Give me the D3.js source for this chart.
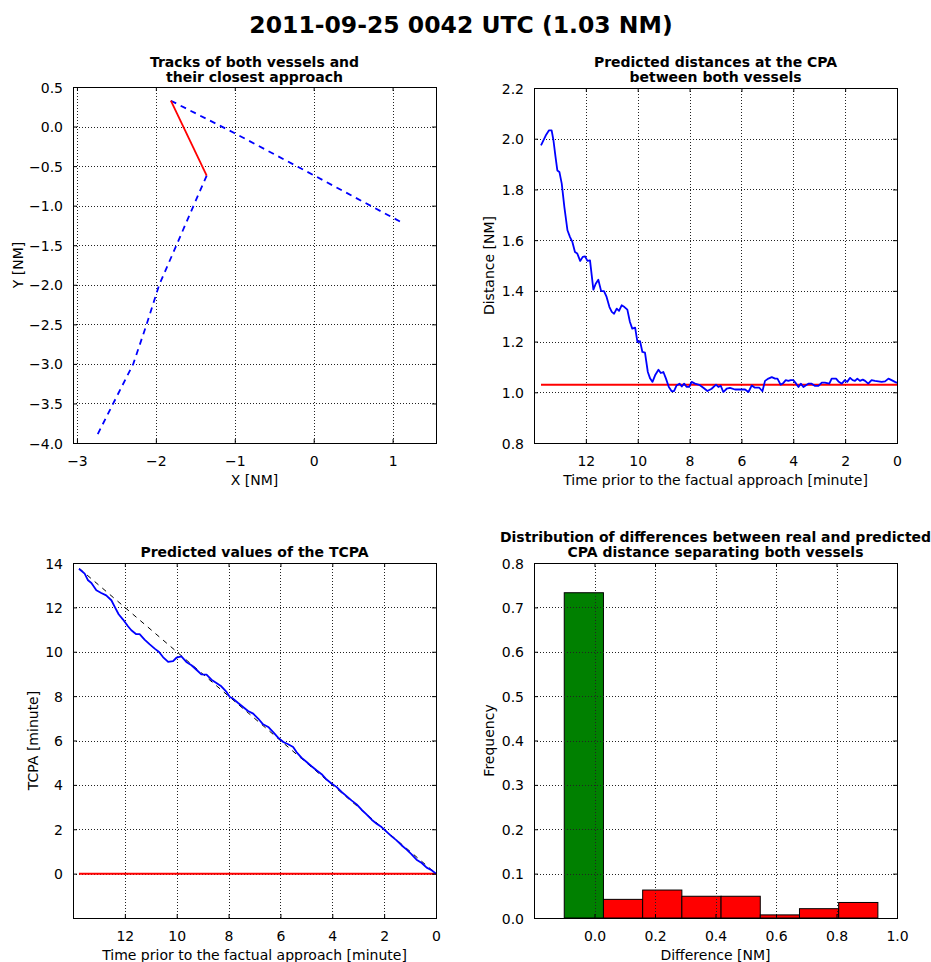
<!DOCTYPE html>
<html>
<head>
<meta charset="utf-8">
<script src="https://cdn.jsdelivr.net/npm/d3@7/dist/d3.min.js"></script>
<style>
  html, body { margin: 0; padding: 0; background: #fff; }
  svg { display: block; font-family: "DejaVu Sans", sans-serif; }
</style>
</head>
<body>
<svg id="chart" width="931" height="962"></svg>
<script>
// ---------------- DATA ----------------
const mainTitle = "2011-09-25 0042 UTC (1.03 NM)";

// Panel 1: tracks (NM)
const vessel1X = [-1.81, -1.0, 0.0, 1.13];
const vessel1Y = [0.327, -0.085, -0.615, -1.22];
const vessel2X = [-1.356, -1.522, -1.739, -1.957, -2.117, -2.286, -2.54, -2.75];
const vessel2Y = [-0.619, -1.0, -1.5, -2.0, -2.5, -3.0, -3.5, -3.914];
const cpaX = [-1.81, -1.356];
const cpaY = [0.327, -0.619];
const p1XTicks = [-3, -2, -1, 0, 1];
const p1YTicks = [0.5, 0.0, -0.5, -1.0, -1.5, -2.0, -2.5, -3.0, -3.5, -4.0];

// Panel 2: predicted CPA distance vs time prior (minutes)
const distTime = [13.73,13.53,13.42,13.32,13.25,13.17,13.10,13.02,12.93,12.83,12.71,12.61,12.52,12.42,12.33,12.22,12.12,12.03,11.94,11.84,11.71,11.62,11.52,11.41,11.30,11.20,11.09,11.00,10.91,10.81,10.72,10.62,10.51,10.40,10.30,10.21,10.10,10.01,9.91,9.82,9.72,9.61,9.52,9.43,9.33,9.20,9.11,9.01,8.91,8.80,8.69,8.60,8.50,8.39,8.30,8.21,8.11,8.01,7.92,7.79,7.60,7.47,7.31,7.15,6.98,6.89,6.80,6.70,6.57,6.44,6.25,6.05,5.86,5.73,5.60,5.48,5.31,5.19,5.09,4.96,4.83,4.70,4.61,4.49,4.38,4.29,4.19,4.10,4.00,3.89,3.80,3.71,3.61,3.51,3.42,3.29,3.16,3.03,2.90,2.78,2.61,2.52,2.35,2.26,2.13,2.01,1.92,1.81,1.71,1.62,1.53,1.43,1.32,1.23,1.11,0.98,0.85,0.72,0.59,0.46,0.33,0.21,0.08,0.00];
const distValue = [1.974,2.016,2.033,2.033,1.994,1.928,1.875,1.869,1.823,1.731,1.639,1.612,1.593,1.553,1.547,1.518,1.534,1.536,1.518,1.520,1.405,1.428,1.444,1.399,1.399,1.376,1.336,1.317,1.310,1.330,1.321,1.343,1.336,1.326,1.277,1.251,1.255,1.198,1.202,1.159,1.156,1.080,1.054,1.041,1.067,1.089,1.076,1.080,1.054,1.021,1.004,1.005,1.027,1.034,1.023,1.034,1.021,1.021,1.041,1.034,1.028,1.018,1.005,1.014,1.030,1.021,1.026,1.001,1.014,1.017,1.011,1.011,1.011,1.001,1.027,1.018,1.018,1.004,1.045,1.054,1.060,1.054,1.054,1.030,1.037,1.048,1.045,1.048,1.048,1.034,1.021,1.034,1.021,1.028,1.034,1.034,1.025,1.025,1.038,1.038,1.034,1.054,1.054,1.043,1.034,1.048,1.041,1.057,1.048,1.045,1.054,1.045,1.050,1.045,1.034,1.048,1.045,1.043,1.041,1.043,1.054,1.048,1.041,1.037];
const realCPA = 1.03;
const realStart = 13.73;
const p2XTicks = [12, 10, 8, 6, 4, 2, 0];
const p2YTicks = [0.8, 1.0, 1.2, 1.4, 1.6, 1.8, 2.0, 2.2];

// Panel 3: predicted TCPA vs time prior (minutes)
const tcpaTime = [13.77,13.55,13.42,13.29,13.10,12.91,12.72,12.52,12.39,12.24,12.07,11.88,11.75,11.56,11.43,11.24,11.04,10.85,10.68,10.53,10.33,10.14,10.01,9.82,9.63,9.43,9.24,9.05,8.85,8.66,8.47,8.28,8.08,7.95,7.83,7.63,7.44,7.25,7.05,6.86,6.67,6.47,6.28,6.09,5.89,5.70,5.51,5.38,5.19,4.99,4.80,4.61,4.41,4.22,4.03,3.84,3.64,3.45,3.26,3.06,2.87,2.68,2.48,2.29,2.10,1.90,1.71,1.52,1.33,1.13,0.94,0.75,0.55,0.36,0.17,0.00];
const tcpaValue = [13.74,13.52,13.22,13.10,12.77,12.65,12.54,12.32,12.02,11.69,11.45,11.15,10.97,10.79,10.79,10.55,10.33,10.14,9.99,9.76,9.54,9.58,9.73,9.79,9.54,9.39,9.19,8.98,8.97,8.74,8.59,8.44,8.19,7.96,7.89,7.69,7.51,7.33,7.21,6.99,6.73,6.61,6.38,6.13,5.93,5.83,5.71,5.48,5.23,5.03,4.84,4.66,4.48,4.24,4.06,3.91,3.68,3.49,3.30,3.12,2.88,2.67,2.43,2.25,2.10,1.88,1.68,1.50,1.28,1.08,0.87,0.63,0.48,0.27,0.15,0.00];
const idealTime = [13.75, 0];
const idealValue = [13.75, 0];
const p3XTicks = [12, 10, 8, 6, 4, 2, 0];
const p3YTicks = [0, 2, 4, 6, 8, 10, 12, 14];

// Panel 4: histogram of differences
const binEdges = [-0.1, 0.0296, 0.1592, 0.2888, 0.4184, 0.548, 0.6776, 0.8072, 0.9368];
const binFreq = [0.733, 0.042, 0.063, 0.049, 0.049, 0.007, 0.021, 0.035];
const binColor = ["green", "red", "red", "red", "red", "red", "red", "red"];
const p4XTicks = [0.0, 0.2, 0.4, 0.6, 0.8, 1.0];
const p4YTicks = [0.0, 0.1, 0.2, 0.3, 0.4, 0.5, 0.6, 0.7, 0.8];

// ---------------- DRAWING ----------------
const svg = d3.select("#chart");
const FONT = 14;
const colors = { blue: "#0000ff", red: "#ff0000", green: "#008000", black: "#000" };
const minus = s => s.replace(/-/g, "\u2212");

svg.append("text")
  .attr("x", 461).attr("y", 32.5)
  .attr("text-anchor", "middle")
  .attr("font-size", 23.5).attr("font-weight", "bold")
  .text(mainTitle);

function panel(opt) {
  const g = svg.append("g");
  const x = d3.scaleLinear().domain(opt.xDomain).range([opt.left, opt.right]);
  const y = d3.scaleLinear().domain(opt.yDomain).range([opt.bottom, opt.top]);
  const layers = {
    under: g.append("g"),
    grid: g.append("g"),
    over: g.append("g"),
    frame: g.append("g")
  };
  // grid
  layers.grid.selectAll(".gx").data(opt.xTicks).enter().append("line")
    .attr("x1", d => Math.round(x(d)) + 0.5).attr("x2", d => Math.round(x(d)) + 0.5)
    .attr("y1", opt.top).attr("y2", opt.bottom)
    .attr("stroke", "#222").attr("stroke-width", 1).attr("stroke-dasharray", "1,2");
  layers.grid.selectAll(".gy").data(opt.yTicks).enter().append("line")
    .attr("y1", d => Math.round(y(d)) + 0.5).attr("y2", d => Math.round(y(d)) + 0.5)
    .attr("x1", opt.left).attr("x2", opt.right)
    .attr("stroke", "#222").attr("stroke-width", 1).attr("stroke-dasharray", "1,2");

  // axes using d3 axis generators (inward ticks)
  const fr = layers.frame;
  const axB = d3.axisBottom(x).tickValues(opt.xTicks).tickSize(-4).tickPadding(14).tickFormat(d => minus(opt.xFmt(d)));
  const axT = d3.axisTop(x).tickValues(opt.xTicks).tickSize(-4).tickFormat("");
  const axL = d3.axisLeft(y).tickValues(opt.yTicks).tickSize(-4).tickPadding(14).tickFormat(d => minus(opt.yFmt(d)));
  const axR = d3.axisRight(y).tickValues(opt.yTicks).tickSize(-4).tickFormat("");
  const styleAx = sel => {
    sel.select(".domain").remove();
    sel.selectAll("line").attr("stroke", "#000");
    sel.selectAll("text").attr("fill", "#000").attr("font-size", FONT).attr("font-family", "DejaVu Sans, sans-serif");
  };
  const gB = fr.append("g").attr("transform", `translate(0,${opt.bottom})`).call(axB).call(styleAx);
  fr.append("g").attr("transform", `translate(0,${opt.top})`).call(axT).call(styleAx);
  const gL = fr.append("g").attr("transform", `translate(${opt.left},0)`).call(axL).call(styleAx);
  fr.append("g").attr("transform", `translate(${opt.right},0)`).call(axR).call(styleAx);
  gB.selectAll("g.tick text").attr("dy", null).attr("y", 23);
  gL.selectAll("g.tick text").attr("x", -10).attr("dy", "0.36em");

  fr.append("rect")
    .attr("x", opt.left + 0.5).attr("y", opt.top + 0.5)
    .attr("width", opt.right - opt.left).attr("height", opt.bottom - opt.top)
    .attr("fill", "none").attr("stroke", "#000").attr("stroke-width", 1);

  // titles
  const cx = (opt.left + opt.right) / 2;
  opt.title.forEach((t, i) => {
    fr.append("text").attr("x", cx).attr("y", opt.titleY[i])
      .attr("text-anchor", "middle").attr("font-size", FONT).attr("font-weight", "bold").text(t);
  });
  fr.append("text").attr("x", cx).attr("y", opt.xLabelY)
    .attr("text-anchor", "middle").attr("font-size", FONT).text(opt.xLabel);
  fr.append("text")
    .attr("transform", `translate(${opt.yLabelX},${(opt.top + opt.bottom) / 2}) rotate(-90)`)
    .attr("text-anchor", "middle").attr("font-size", FONT).text(opt.yLabel);
  return { x, y, layers };
}

const f1 = d3.format(".1f");
const f0 = d3.format("d");

// Panel 1
const P1 = panel({
  left: 73, right: 436, top: 87, bottom: 443,
  xDomain: [-3.05, 1.55], yDomain: [-4.0, 0.5],
  xTicks: p1XTicks, yTicks: p1YTicks, xFmt: f0, yFmt: f1,
  title: ["Tracks of both vessels and", "their closest approach"], titleY: [66.5, 82],
  xLabel: "X [NM]", xLabelY: 484.5, yLabel: "Y [NM]", yLabelX: 22.5
});
{
  const line = d3.line().x(d => P1.x(d[0])).y(d => P1.y(d[1]));
  P1.layers.over.append("path").datum(d3.zip(vessel1X, vessel1Y)).attr("d", line)
    .attr("fill", "none").attr("stroke", colors.blue).attr("stroke-width", 1.8).attr("stroke-dasharray", "6,5");
  P1.layers.over.append("path").datum(d3.zip(vessel2X, vessel2Y)).attr("d", line)
    .attr("fill", "none").attr("stroke", colors.blue).attr("stroke-width", 1.8).attr("stroke-dasharray", "6,5");
  P1.layers.over.append("path").datum(d3.zip(cpaX, cpaY)).attr("d", line)
    .attr("fill", "none").attr("stroke", colors.red).attr("stroke-width", 1.8);
}

// Panel 2
const P2 = panel({
  left: 534, right: 897, top: 88, bottom: 443,
  xDomain: [14, 0], yDomain: [0.8, 2.2],
  xTicks: p2XTicks, yTicks: p2YTicks, xFmt: f0, yFmt: f1,
  title: ["Predicted distances at the CPA", "between both vessels"], titleY: [66.5, 82],
  xLabel: "Time prior to the factual approach [minute]", xLabelY: 484.5, yLabel: "Distance [NM]", yLabelX: 494
});
{
  const line = d3.line().x(d => P2.x(d[0])).y(d => P2.y(d[1]));
  P2.layers.over.append("path").datum([[realStart, realCPA], [0, realCPA]]).attr("d", line)
    .attr("fill", "none").attr("stroke", colors.red).attr("stroke-width", 2);
  P2.layers.over.append("path").datum(d3.zip(distTime, distValue)).attr("d", line)
    .attr("fill", "none").attr("stroke", colors.blue).attr("stroke-width", 1.8).attr("stroke-linejoin", "round");
}

// Panel 3
const P3 = panel({
  left: 73, right: 436, top: 563, bottom: 918,
  xDomain: [14, 0], yDomain: [-2, 14],
  xTicks: p3XTicks, yTicks: p3YTicks, xFmt: f0, yFmt: f0,
  title: ["Predicted values of the TCPA"], titleY: [557],
  xLabel: "Time prior to the factual approach [minute]", xLabelY: 960, yLabel: "TCPA [minute]", yLabelX: 37.5
});
{
  const line = d3.line().x(d => P3.x(d[0])).y(d => P3.y(d[1]));
  P3.layers.over.append("path").datum(d3.zip(idealTime, idealValue)).attr("d", line)
    .attr("fill", "none").attr("stroke", "#000").attr("stroke-width", 1).attr("stroke-dasharray", "5,5");
  P3.layers.over.append("path").datum([[tcpaTime[0], 0], [0, 0]]).attr("d", line)
    .attr("fill", "none").attr("stroke", colors.red).attr("stroke-width", 2);
  P3.layers.over.append("path").datum(d3.zip(tcpaTime, tcpaValue)).attr("d", line)
    .attr("fill", "none").attr("stroke", colors.blue).attr("stroke-width", 1.8).attr("stroke-linejoin", "round");
}

// Panel 4
const P4 = panel({
  left: 534, right: 897, top: 563, bottom: 918,
  xDomain: [-0.2, 1.0], yDomain: [0, 0.8],
  xTicks: p4XTicks, yTicks: p4YTicks, xFmt: f1, yFmt: f1,
  title: ["Distribution of differences between real and predicted", "CPA distance separating both vessels"], titleY: [541.5, 557],
  xLabel: "Difference [NM]", xLabelY: 960, yLabel: "Frequency", yLabelX: 494
});
{
  const bins = binFreq.map((f, i) => ({ x0: binEdges[i], x1: binEdges[i + 1], f, c: binColor[i] }));
  P4.layers.under.selectAll("rect").data(bins).enter().append("rect")
    .attr("x", d => P4.x(d.x0)).attr("width", d => P4.x(d.x1) - P4.x(d.x0))
    .attr("y", d => P4.y(d.f)).attr("height", d => P4.y(0) - P4.y(d.f))
    .attr("fill", d => colors[d.c]).attr("stroke", "#000").attr("stroke-width", 1);
}
</script>
</body>
</html>
